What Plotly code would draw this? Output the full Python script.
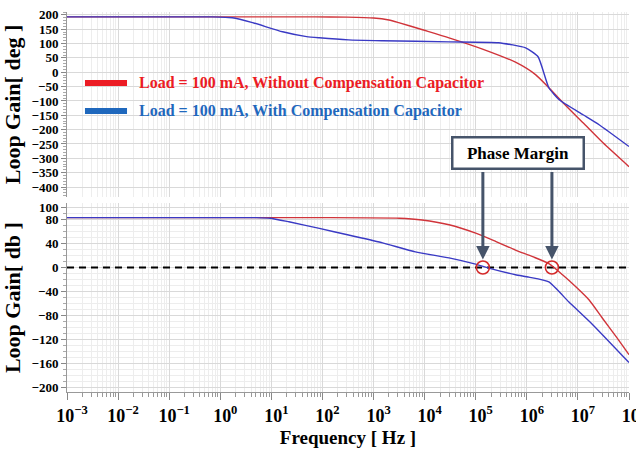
import math
import plotly.graph_objects as go

# ---------------- data ----------------
freq_phase_red = [1e-3, 1e0, 72, 3.0e2, 1.0e3, 2.0e3, 3.1e3, 9.1e3, 3.0e4, 1.4e5,
                  6.0e5, 1.5e6, 2.7e6, 5.1e6, 1.26e7, 3.1e7, 1e8]
phase_red = [193, 193, 193, 192, 189, 182, 173, 148, 120, 80, 35, -9, -54, -106,
             -176, -246, -329]

freq_phase_blue = [1e-3, 0.69, 1.72, 4.27, 16.6, 49, 87, 324, 1.5e3, 3.0e4, 2.8e5,
                   9.5e5, 1.66e6, 2.7e6, 4.3e6, 1.26e7, 2.6e7, 1e8]
phase_blue = [193, 193, 190, 173, 141, 124, 120, 113, 110, 106, 103, 85, 54, -54,
              -96, -148, -183, -259]

freq_mag_red = [1e-3, 72, 3.2e3, 8.9e3, 3.0e4, 1.0e5, 2.5e5, 6.0e5, 1.3e6, 2.75e6,
                5.0e6, 9.1e6, 1.66e7, 3.0e7, 5.6e7, 1e8]
mag_red = [83, 83, 82, 79, 71, 57, 43, 29, 18, 6, -12, -32, -54, -84, -115, -145]

freq_mag_blue = [1e-3, 5.0, 9.5, 22, 87, 324, 1.5e3, 6.6e3, 3.0e4, 9.5e4, 1.8e5,
                 6.0e5, 1.1e6, 2.7e6, 6.6e6, 1.95e7, 1e8]
mag_blue = [83, 83, 82, 76, 65, 54, 41, 26, 16, 6, -1, -12, -16, -24, -57, -95, -158]

pm_freq = [1.38e5, 3.1e6]          # 0 dB crossover points (phase margin)

series_names = ["Load = 100 mA, Without Compensation Capacitor",
                "Load = 100 mA, With Compensation Capacitor"]

x_tick_exp = list(range(-3, 9))
x_tick_vals = [10.0 ** e for e in x_tick_exp]
x_tick_text = ["10<sup>%s</sup>" % (str(e).replace("-", "\u2212")) for e in x_tick_exp]

phase_ticks = list(range(-400, 201, 50))
mag_ticks = [100, 80, 40, 0, -40, -80, -120, -160, -200]

# ---------------- style ----------------
RED = "#d0343a"
BLUE = "#3a3ac4"
LEG_RED = "#ec1c24"
LEG_BLUE = "#1f68bd"
ARROW = "#46546a"
FONT = "Liberation Serif"
GRID = "#d9d9d9"
MINOR_GRID = "#ededed"

fig = go.Figure()

fig.add_trace(go.Scatter(x=freq_phase_red, y=phase_red, mode="lines",
                         line=dict(color=RED, width=1.4, shape="spline", smoothing=0.6),
                         xaxis="x", yaxis="y", name=series_names[0], showlegend=False))
fig.add_trace(go.Scatter(x=freq_phase_blue, y=phase_blue, mode="lines",
                         line=dict(color=BLUE, width=1.4, shape="spline", smoothing=0.5),
                         xaxis="x", yaxis="y", name=series_names[1], showlegend=False))

fig.add_trace(go.Scatter(x=[x_tick_vals[0], x_tick_vals[-1]], y=[0, 0], mode="lines",
                         line=dict(color="black", width=2, dash="7px,5px"),
                         xaxis="x2", yaxis="y2", showlegend=False, hoverinfo="skip"))
fig.add_trace(go.Scatter(x=freq_mag_red, y=mag_red, mode="lines",
                         line=dict(color=RED, width=1.4, shape="spline", smoothing=0.6),
                         xaxis="x2", yaxis="y2", name=series_names[0], showlegend=False))
fig.add_trace(go.Scatter(x=freq_mag_blue, y=mag_blue, mode="lines",
                         line=dict(color=BLUE, width=1.4, shape="spline", smoothing=0.5),
                         xaxis="x2", yaxis="y2", name=series_names[1], showlegend=False))
fig.add_trace(go.Scatter(x=pm_freq, y=[0, 0], mode="markers",
                         marker=dict(symbol="circle-open", size=13, color="#d42a2a",
                                     line=dict(width=1.6, color="#d42a2a")),
                         xaxis="x2", yaxis="y2", showlegend=False, hoverinfo="skip"))

xcommon = dict(type="log", range=[-3, 8], showgrid=True, gridcolor=GRID, gridwidth=1,
               zeroline=False, tickvals=x_tick_vals, automargin=False)
fig.update_layout(
    xaxis=dict(**xcommon, anchor="y", showticklabels=False, ticks="",
               minor=dict(dtick="D1", showgrid=True, gridcolor=MINOR_GRID, ticks="")),
    xaxis2=dict(**xcommon, anchor="y2", matches="x", ticktext=x_tick_text,
                ticks="outside", ticklen=7, tickcolor="#888", showline=True,
                linecolor="#999", linewidth=1, ticklabelshift=5,
                ticklabeloverflow="allow",
                tickfont=dict(family=FONT, size=18, color="black", weight="bold"),
                minor=dict(dtick="D1", showgrid=True, gridcolor=MINOR_GRID,
                           ticks="outside", ticklen=4, tickcolor="#999"),
                title=dict(text="<b>Frequency [ Hz ]</b>", standoff=6,
                           font=dict(family=FONT, size=19, color="black"))),
    yaxis=dict(domain=[0.513, 1.0], range=[-435, 210], tickvals=phase_ticks,
               automargin=False,
               showgrid=True, gridcolor=GRID, zeroline=False, showline=True,
               linecolor="#999", ticks="outside", ticklen=5, tickcolor="#888",
               tickfont=dict(family=FONT, size=13, color="black", weight="bold"),
               minor=dict(dtick=10, ticks="outside", ticklen=3, tickcolor="#aaa",
                          showgrid=False),
               title=dict(text="<b>Loop Gain[ deg ]</b>", standoff=6,
                          font=dict(family=FONT, size=22, color="black"))),
    yaxis2=dict(domain=[0.0, 0.497], range=[-207, 107], tickvals=mag_ticks,
                automargin=False,
                showgrid=True, gridcolor=GRID, zeroline=False, showline=True,
                linecolor="#999", ticks="outside", ticklen=5, tickcolor="#888",
                tickfont=dict(family=FONT, size=13, color="black", weight="bold"),
                minor=dict(dtick=10, ticks="outside", ticklen=3, tickcolor="#aaa",
                           showgrid=True, gridcolor=MINOR_GRID),
                title=dict(text="<b>Loop Gain[ db ]</b>", standoff=6,
                           font=dict(family=FONT, size=22, color="black"))),
    width=636, height=453,
    margin=dict(l=67, r=7, t=12, b=61),
    paper_bgcolor="white", plot_bgcolor="white",
    font=dict(family=FONT, color="black"),
    showlegend=False,
)

# legend drawn inside the phase panel
leg_y = [0.813, 0.7395]
leg_cols = [LEG_RED, LEG_BLUE]
for name, yy, col in zip(series_names, leg_y, leg_cols):
    fig.add_shape(type="line", xref="paper", yref="paper", x0=0.032, x1=0.1068,
                  y0=yy, y1=yy, line=dict(color=col, width=6))
    fig.add_annotation(xref="paper", yref="paper", x=0.1246, y=yy, xanchor="left",
                       yanchor="middle", showarrow=False, text="<b>%s</b>" % name,
                       font=dict(family=FONT, size=16, color=col))

# phase margin callout
fig.add_annotation(xref="paper", yref="paper", x=0.803, y=0.628, showarrow=False,
                   xanchor="center", yanchor="middle",
                   text="<b>Phase Margin</b>", width=127, height=27, borderpad=1,
                   bordercolor=ARROW, borderwidth=2.5, bgcolor="white",
                   font=dict(family=FONT, size=17, color="black"))
for f in pm_freq:
    fig.add_annotation(xref="x2", yref="y2", x=math.log10(f), y=0, text="",
                       showarrow=True, ax=0, ay=-97, standoff=8, arrowhead=2,
                       arrowsize=0.9, arrowwidth=3, arrowcolor=ARROW)

fig.write_html("out.html", config={"displayModeBar": False},
               post_script="document.body.style.margin='0px';")
